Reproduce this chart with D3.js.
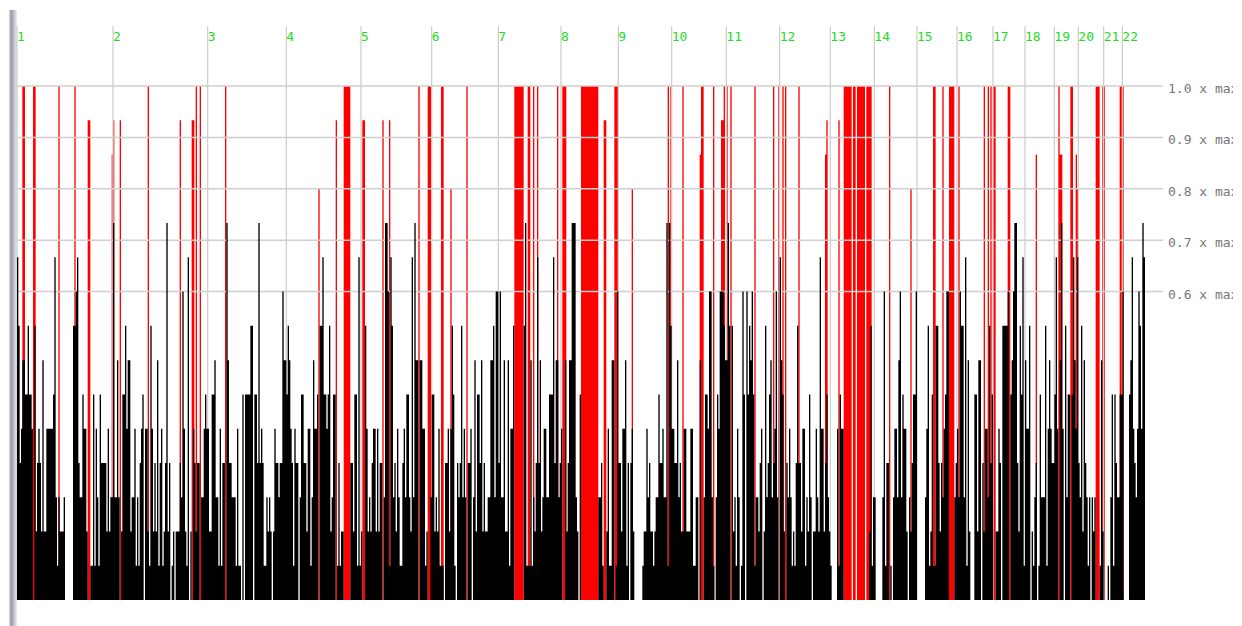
<!DOCTYPE html>
<html>
<head>
<meta charset="utf-8">
<script src="https://cdn.jsdelivr.net/npm/d3@7"></script>
<style>
  html, body { margin: 0; padding: 0; background: #fff; overflow: hidden; }
  svg { display: block; }
  text { font-family: "DejaVu Sans Mono", monospace; font-size: 13px; }
</style>
</head>
<body>
<div id="chart"></div>
<script>
var chromosomes = ['1','2','3','4','5','6','7','8','9','10','11','12','13','14','15','16','17','18','19','20','21','22']
// first bin of each chromosome
var chromStarts = [0,72,143,202,258,311,361,408,451,491,532,572,610,643,675,705,732,756,778,796,815,829]
var gridTicks = [1, 0.9, 0.8, 0.7, 0.6]
var levelCount = 15
var binCount = 846

// black bar height per bin, in fifteenths of max, one hex digit per bin
var blackRows = [
  'a8457766866508245427225555 56a31322230000 00889a433655200116153164444252 33b33730266857723351 3145605521',
  '8524271451 24b2401202 22439521a0 2054244033 5655226673 3151440b74 4333151106 0666688066 4b45411323 2025443449',
  '7768754154 4036644255 137556088a 6656823660 1412200000 442661a120 0852324552 524403bb91 a834253114 53663 2a3b7',
  '7077551200 3662325111 0445258610 4348353044 5037266472 4223377839 9493372271 5580000000 8b11171324 a472355336',
  '66a4773450 072477bbb3 2060000000 0000003341 0025117701 9442557140 4520000001 2253422123 3644533b1b 8554473422',
  '5522255113 3070036659 9310365999 877b808231 5301960968 7961332450 2834673459 30a7620435 3121484425 5132630225',
  '32a5524632 1000051655 0000000000 0000000002 8133000003 9144010355 3793655203 2466900000 0358126118 8424356990',
  '0003453988 3a17200066 2770425538 4600225408 888906 79bb 4286a17558 0213401633 381575446a 507b508366 06a75a4382',
  '7431303230 0017200010 3616433669 000067a543 5985ba'
]

// red bars, listed by height (fifteenths of max)
var red15 = [4,5,12,13,31,43,98,134,137,156,245,246,247,248,249,301,308,309,310,318,319,337,
  373,374,375,376,377,378,379,383,384,387,390,405,409,410,411,423,424,425,426,427,428,429,430,431,432,433,434,435,
  448,449,450,488,490,499,513,514,522,530,532,535,553,567,571,574,576,586,
  620,621,622,623,624,625,627,628,630,631,632,633,634,635,637,638,639,640,654,687,688,
  694,699,700,701,702,706,725,728,730,732,733,743,744,781,790,791,809,810,811,814,815,827,828,829]
var red14 = [53,54,72,77,122,131,132,239,259,260,274,279,440,441,528,529,607,616]
var red13 = [71,512,606,764,782,783,794]
var red12 = [226,325,461,670,795]

var blackLevels = blackRows.join('').replace(/ /g, '').split('').map(function(c) {
  return parseInt(c, 16)
})
var redLevels = blackLevels.map(function() { return 0 })
;[[15, red15], [14, red14], [13, red13], [12, red12]].forEach(function(group) {
  group[1].forEach(function(bin) {
    redLevels[bin] = group[0]
  })
})

var width = 1242
var height = 626

var x = d3.scaleLinear().domain([0, binCount]).range([17, 1145])
var y = d3.scaleLinear().domain([0, 1]).range([600, 86])

var svg = d3.select('#chart').append('svg')
  .attr('width', width)
  .attr('height', height)

var defs = svg.append('defs')
var edge = defs.append('linearGradient').attr('id', 'edge')
edge.append('stop').attr('offset', '0').attr('stop-color', '#d4d4dc')
edge.append('stop').attr('offset', '0.3').attr('stop-color', '#9b9ba8')
edge.append('stop').attr('offset', '1').attr('stop-color', '#eeeef3')
defs.append('clipPath').attr('id', 'labelClip')
  .append('rect')
  .attr('x', 1160).attr('y', 0)
  .attr('width', 73).attr('height', height)

// window edge on the left
svg.append('rect')
  .attr('x', 9).attr('y', 10)
  .attr('width', 8).attr('height', height - 10)
  .attr('fill', 'url(#edge)')

drawBars(redLevels, 'red', '#ff0000')

// chromosome lines and labels
svg.append('g').selectAll('line')
  .data(chromStarts)
  .enter().append('line')
  .attr('x1', function(d) { return x(d) })
  .attr('x2', function(d) { return x(d) })
  .attr('y1', 26)
  .attr('y2', y(0))
  .attr('stroke', '#cfcfcf')
  .attr('stroke-width', 1.3)

svg.append('g').selectAll('text')
  .data(chromosomes)
  .enter().append('text')
  .attr('x', function(d, i) { return x(chromStarts[i]) })
  .attr('y', 41)
  .attr('fill', '#22dd22')
  .text(function(d) { return d })

// horizontal grid, drawn over red and under black
svg.append('g').selectAll('line')
  .data(gridTicks)
  .enter().append('line')
  .attr('x1', x(0))
  .attr('x2', 1163)
  .attr('y1', function(d) { return y(d) })
  .attr('y2', function(d) { return y(d) })
  .attr('stroke', '#cfcfcf')
  .attr('stroke-width', 1.5)

svg.append('g')
  .attr('clip-path', 'url(#labelClip)')
  .selectAll('text')
  .data(gridTicks)
  .enter().append('text')
  .attr('x', 1168)
  .attr('y', function(d) { return y(d) + 7 })
  .attr('fill', '#777')
  .text(function(d) { return d3.format('.1f')(d) + ' x max' })

drawBars(blackLevels, 'black', '#000')

// one stepped outline per colour, so neighbouring bins leave no seam
function drawBars(levels, name, colour) {
  var area = d3.area()
    .curve(d3.curveStepAfter)
    .x(function(d, i) { return x(i) })
    .y0(y(0))
    .y1(function(d) { return y(d / levelCount) })

  svg.append('path')
    .datum(levels.concat([0]))
    .attr('class', name)
    .attr('d', area)
    .attr('fill', colour)
}
</script>
</body>
</html>
